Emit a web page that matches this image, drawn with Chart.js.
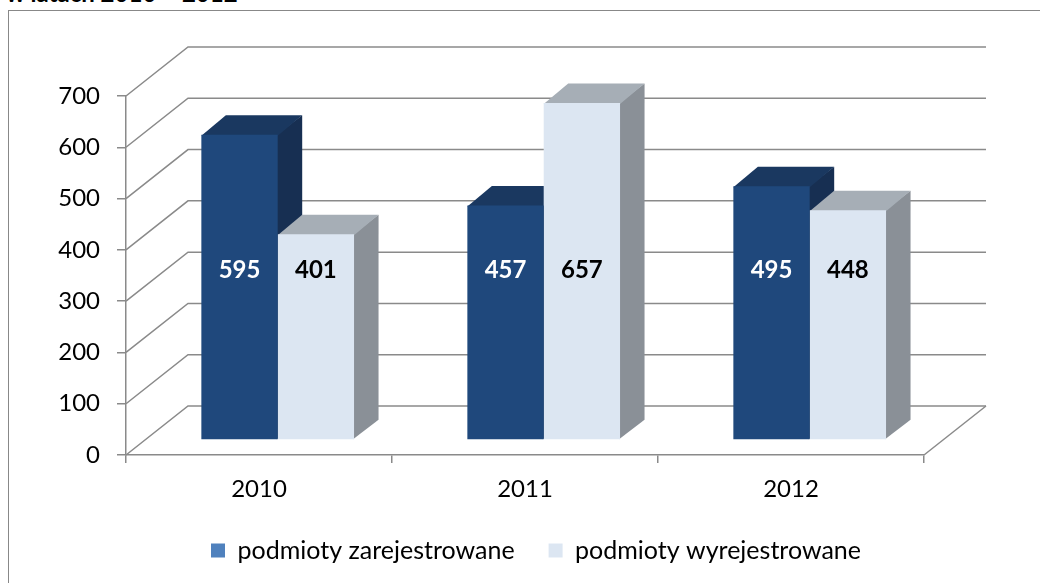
<!DOCTYPE html>
<html>
<head>
<meta charset="utf-8">
<script src="https://cdn.jsdelivr.net/npm/chart.js@4.4.1/dist/chart.umd.min.js"></script>
<style>
  html, body { margin: 0; padding: 0; background: #fff; overflow: hidden; }
  #wrap { position: relative; width: 1040px; height: 583px; }
  #title { position: absolute; left: 6px; top: -17px; font: bold 24px Lato, sans-serif; line-height: 20px; color: #000; white-space: nowrap; }
  #frame { position: absolute; left: 8px; top: 10px; width: 1100px; height: 700px; border: 1px solid #888; }
  #barChart { position: absolute; left: 0; top: 0; }
</style>
</head>
<body>
<div id="wrap">
  <div id="title">w latach 2010 – 2012</div>
  <div id="frame"></div>
  <canvas id="barChart" width="1040" height="583"></canvas>
</div>
<script>
const years = ['2010', '2011', '2012'];
const registered = [595, 457, 495];
const deregistered = [401, 657, 448];
const seriesNames = ['podmioty zarejestrowane', 'podmioty wyrejestrowane'];
const yTicks = [0, 100, 200, 300, 400, 500, 600, 700];

// 3d look: back wall offset, where the bars stand on the floor and how deep they are
const WALL_DX = 62, WALL_DY = -49;
const BAR_DX = 18.7, BAR_DY = -15;
const DEPTH_DX = 24.5, DEPTH_DY = -19.5;
const LABEL_LEVEL = 330;
const gridColor = '#8a8a8a';
const legendColors = ['#4f81bd', '#dce6f2'];

Chart.defaults.font.family = 'Lato, sans-serif';
Chart.defaults.font.size = 24;
Chart.defaults.color = '#000';

const box3d = {
  id: 'box3d',
  beforeDatasetsDraw(chart) {
    const { ctx, chartArea: a, scales: { y } } = chart;
    ctx.save();
    ctx.strokeStyle = gridColor;
    ctx.lineWidth = 1.5;
    y.ticks.forEach(t => {
      const py = y.getPixelForValue(t.value);
      ctx.beginPath();
      ctx.moveTo(a.left, py);
      ctx.lineTo(a.left + WALL_DX, py + WALL_DY);
      ctx.lineTo(a.right + WALL_DX, py + WALL_DY);
      ctx.stroke();
    });
    ctx.beginPath();
    ctx.moveTo(a.right, a.bottom);
    ctx.lineTo(a.right + WALL_DX, a.bottom + WALL_DY);
    ctx.stroke();
    ctx.restore();

    // stays translated until afterDatasetsDraw, so the library bars become the front faces
    ctx.save();
    ctx.translate(BAR_DX, BAR_DY);
    chart.data.datasets.forEach((ds, i) => {
      chart.getDatasetMeta(i).data.forEach(bar => {
        const x0 = bar.x - bar.width / 2, x1 = bar.x + bar.width / 2;
        ctx.fillStyle = ds.sideColor;
        ctx.beginPath();
        ctx.moveTo(x1 - 1, bar.y);
        ctx.lineTo(x1 + DEPTH_DX, bar.y + DEPTH_DY);
        ctx.lineTo(x1 + DEPTH_DX, bar.base + DEPTH_DY);
        ctx.lineTo(x1 - 1, bar.base);
        ctx.closePath();
        ctx.fill();
        ctx.fillStyle = ds.topColor;
        ctx.beginPath();
        ctx.moveTo(x0, bar.y + 1);
        ctx.lineTo(x1, bar.y + 1);
        ctx.lineTo(x1 + DEPTH_DX, bar.y + DEPTH_DY);
        ctx.lineTo(x0 + DEPTH_DX, bar.y + DEPTH_DY);
        ctx.closePath();
        ctx.fill();
      });
    });
  },
  afterDatasetsDraw(chart) {
    const { ctx, scales: { y } } = chart;
    ctx.font = 'bold 24px Lato, sans-serif';
    ctx.textAlign = 'center';
    ctx.textBaseline = 'middle';
    chart.data.datasets.forEach((ds, i) => {
      ctx.fillStyle = ds.labelColor;
      chart.getDatasetMeta(i).data.forEach((bar, j) => {
        ctx.fillText(String(ds.data[j]), bar.x, y.getPixelForValue(LABEL_LEVEL));
      });
    });
    ctx.restore();
  }
};

const ctx = document.getElementById('barChart').getContext('2d');
new Chart(ctx, {
  type: 'bar',
  data: {
    labels: years,
    datasets: [{
      label: seriesNames[0],
      data: registered,
      backgroundColor: '#1f487c',
      sideColor: '#172f52',
      topColor: '#1a3860',
      labelColor: '#fff',
      borderWidth: 0,
      clip: false
    }, {
      label: seriesNames[1],
      data: deregistered,
      backgroundColor: '#dce6f2',
      sideColor: '#8a9097',
      topColor: '#a6aeb6',
      labelColor: '#000',
      borderWidth: 0,
      clip: false
    }]
  },
  options: {
    responsive: false,
    animation: false,
    categoryPercentage: 0.574,
    barPercentage: 1,
    layout: { padding: { left: 40, right: 8, top: 96, bottom: 10 } },
    plugins: {
      tooltip: { enabled: false },
      legend: {
        position: 'bottom',
        labels: {
          font: { size: 25 },
          boxWidth: 14,
          boxHeight: 14,
          padding: 34,
          generateLabels(chart) {
            const items = Chart.defaults.plugins.legend.labels.generateLabels(chart);
            items.forEach((it, i) => {
              it.fillStyle = legendColors[i];
              it.strokeStyle = legendColors[i];
              it.lineWidth = 0;
            });
            return items;
          }
        }
      }
    },
    scales: {
      x: {
        grid: { drawOnChartArea: false, color: gridColor, lineWidth: 1.5, tickLength: 8 },
        border: { color: gridColor, width: 1.5 },
        ticks: { padding: 12 },
        afterFit(s) { s.height = 49; }
      },
      y: {
        min: 0,
        max: 700,
        afterBuildTicks(s) { s.ticks = yTicks.map(v => ({ value: v })); },
        grid: { drawOnChartArea: false, color: gridColor, lineWidth: 1.5, tickLength: 9 },
        border: { color: gridColor, width: 1.5 },
        ticks: { padding: 17 },
        afterFit(s) { s.width = 86; }
      },
      yR: {
        position: 'right',
        grid: { display: false },
        border: { display: false },
        ticks: { display: false },
        afterFit(s) { s.width = 108; }
      }
    }
  },
  plugins: [box3d]
});
</script>
</body>
</html>
